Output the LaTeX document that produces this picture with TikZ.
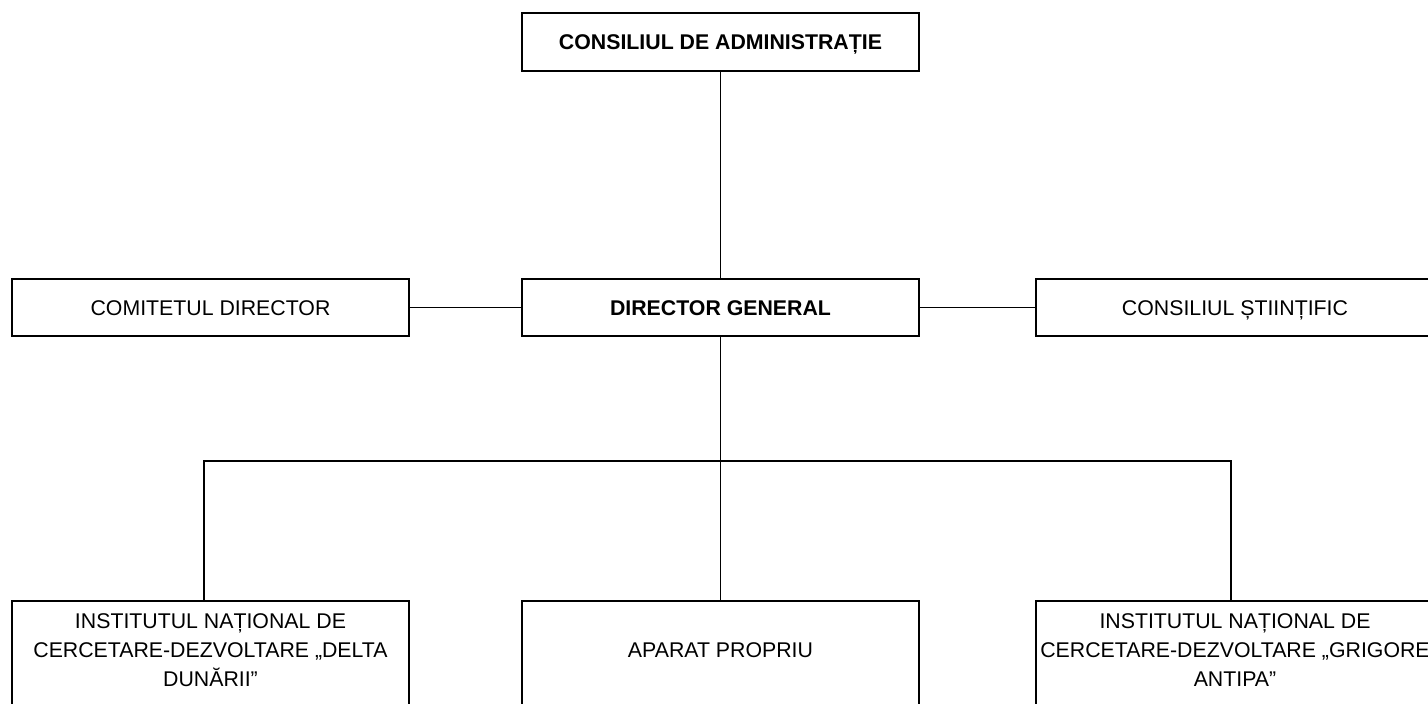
\documentclass[tikz,border=0pt]{standalone}
\usepackage{fontspec}
\setmainfont{Liberation Sans}
\usetikzlibrary{calc}
\tikzset{every picture/.append style = {x = 1pt, y = -1pt}}
\tikzset{box/.style = {draw, line width = 1.8pt, rectangle, minimum width = 397pt, inner sep = 1pt, align = center, font = \fontsize{21.3}{29}\selectfont}}
\tikzset{oneline/.style = {box, minimum height = 57pt, text height = 15.3pt, text depth = 0pt}}
\tikzset{threeline/.style = {box, anchor = north, minimum height = 108pt, text depth = 10.5pt}}
\tikzset{link/.style = {line width = 1.8pt}}

\begin{document}
\begin{tikzpicture}
\clip (0,0) rectangle (1428,704);
\node[oneline, minimum height = 58pt, font = \fontsize{21.3}{29}\selectfont\bfseries] (admin) at (720.5,42) {CONSILIUL DE ADMINISTRAȚIE};
\node[oneline, font = \fontsize{21.3}{29}\selectfont\bfseries] (dirgen) at (720.5,307.5) {DIRECTOR GENERAL};
\node[oneline] (comitet) at (210.5,307.5) {COMITETUL DIRECTOR};
\node[oneline, minimum width = 398pt] (stiint) at (1235,307.5) {CONSILIUL ȘTIINȚIFIC};
\node[threeline] (delta) at (210.5,600) {INSTITUTUL NAȚIONAL DE\\CERCETARE-DEZVOLTARE „DELTA\\DUNĂRII”};
\node[threeline] (aparat) at (720.5,600) {APARAT PROPRIU};
\node[threeline, minimum width = 398pt] (antipa) at (1235,600) {INSTITUTUL NAȚIONAL DE\\CERCETARE-DEZVOLTARE „GRIGORE\\ANTIPA”};
\coordinate (busL) at (204,461);
\coordinate (busR) at (1231,461);
% legaturi
\draw[link] (admin) -- (dirgen);
\draw[link] (comitet) -- (dirgen);
\draw[link] (dirgen) -- (stiint);
\draw[link] (dirgen) -- (aparat);
\draw[link] (busL |- delta.north) -- (busL) -- (busR) -- (busR |- antipa.north);
\end{tikzpicture}
\end{document}
